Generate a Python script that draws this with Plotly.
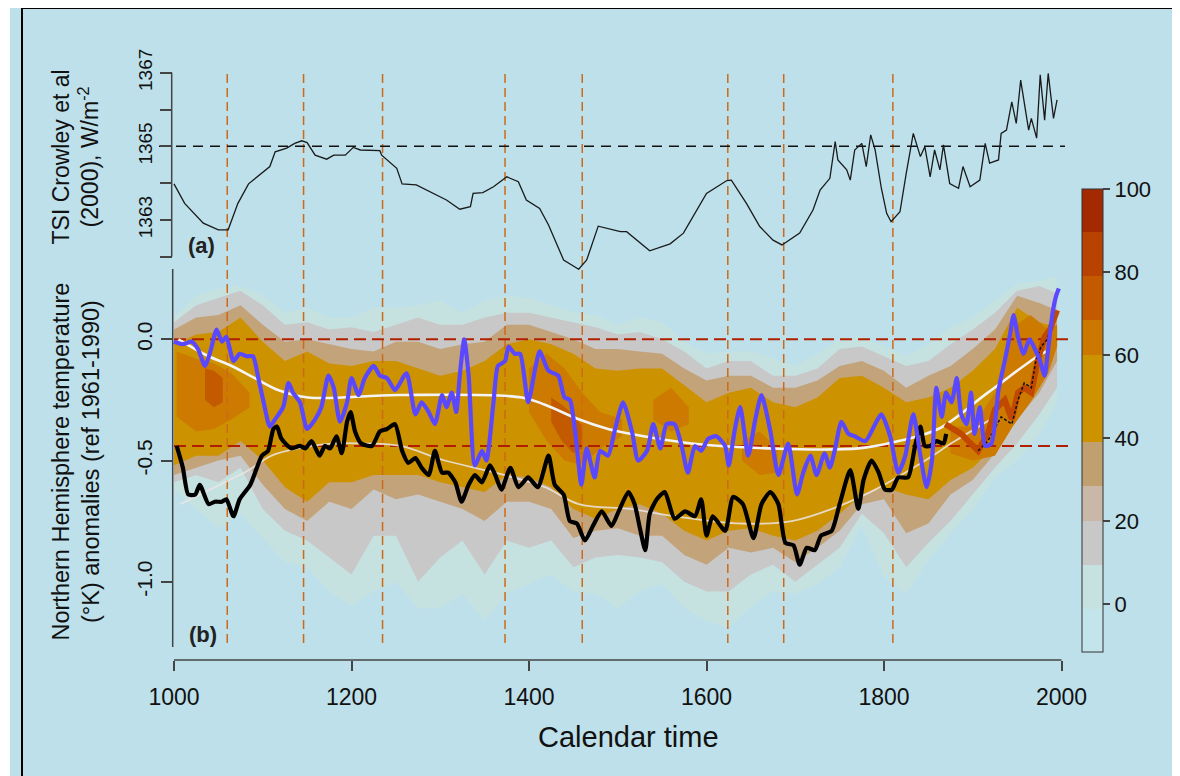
import plotly.graph_objects as go

# ---------------- data ----------------
tsi_year = [1000,1012,1033,1050,1061,1072,1084,1108,1114,1127,1136,1144,1150,1159,1172,1180,1193,1202,1210,1232,
            1234,1251,1257,1273,1307,1322,1334,1337,1348,1360,1375,1388,1397,1412,1422,1439,1456,1465,1478,1503,
            1510,1536,1559,1574,1600,1623,1628,1645,1660,1675,1685,1705,1720,1728,1739,1745,1748,1758,1762,1767,
            1775,1780,1785,1790,1797,1803,1808,1818,1825,1833,1841,1846,1852,1857,1863,1867,1874,1884,1889,1897,
            1908,1914,1919,1929,1932,1938,1944,1949,1954,1959,1963,1966,1972,1976,1981,1985,1991,1995]
tsi_val = [1363.98,1363.45,1362.91,1362.73,1362.73,1363.45,1363.98,1364.45,1364.85,1364.95,1365.08,1365.15,1365.10,1364.76,1364.65,1364.76,1364.76,1364.97,1364.90,1364.88,
           1364.76,1364.40,1363.98,1363.95,1363.54,1363.29,1363.36,1363.72,1363.74,1363.90,1364.17,1364.04,1363.54,1363.31,1362.86,1361.91,1361.66,1361.91,1362.83,1362.68,
           1362.68,1362.16,1362.35,1362.64,1363.72,1364.07,1364.08,1363.45,1362.82,1362.45,1362.32,1362.64,1363.27,1363.81,1364.13,1365.13,1364.63,1364.36,1364.08,1364.90,
           1365.08,1364.45,1365.31,1364.90,1363.86,1363.18,1362.95,1363.22,1364.26,1365.35,1364.72,1364.99,1364.17,1364.90,1364.36,1365.04,1363.99,1363.86,1364.45,1363.90,
           1364.08,1365.08,1364.54,1364.63,1365.35,1365.44,1366.21,1365.62,1366.80,1365.99,1365.44,1365.76,1365.22,1366.94,1365.71,1366.98,1365.76,1366.26]
tsi_ref = 1365.0

blue_year = [1000,1010,1020,1027,1035,1041,1048,1054,1059,1067,1074,1082,1089,1095,1101,1108,1114,1123,1129,1134,
             1142,1150,1159,1166,1174,1180,1187,1195,1200,1208,1215,1225,1232,1240,1249,1262,1272,1279,1287,1294,
             1302,1307,1313,1318,1322,1327,1332,1339,1347,1352,1360,1365,1373,1377,1384,1390,1399,1407,1412,1422,
             1433,1440,1446,1452,1459,1465,1474,1480,1489,1497,1506,1516,1523,1533,1540,1548,1555,1564,1572,1579,
             1587,1594,1602,1611,1621,1625,1632,1638,1647,1655,1662,1672,1681,1692,1702,1709,1717,1724,1733,1739,
             1745,1752,1760,1767,1779,1790,1797,1807,1816,1824,1833,1841,1848,1854,1859,1865,1870,1876,1882,1887,
             1893,1898,1902,1908,1914,1921,1929,1936,1942,1946,1951,1957,1964,1970,1976,1981,1985,1990,1994,1997]
blue_val = [-0.01,-0.02,-0.01,-0.04,-0.11,-0.05,0.04,-0.01,0.01,-0.09,-0.06,-0.07,-0.07,-0.16,-0.26,-0.36,-0.33,-0.28,-0.18,-0.22,
            -0.26,-0.37,-0.33,-0.28,-0.15,-0.20,-0.34,-0.26,-0.16,-0.23,-0.16,-0.11,-0.15,-0.16,-0.21,-0.14,-0.31,-0.26,-0.30,-0.35,
            -0.23,-0.28,-0.22,-0.30,-0.15,0.00,-0.15,-0.52,-0.46,-0.50,-0.26,-0.11,-0.09,-0.03,-0.06,-0.06,-0.26,-0.12,-0.05,-0.13,
            -0.15,-0.24,-0.25,-0.38,-0.60,-0.45,-0.57,-0.46,-0.48,-0.37,-0.26,-0.38,-0.50,-0.46,-0.35,-0.45,-0.35,-0.35,-0.44,-0.55,
            -0.44,-0.46,-0.41,-0.40,-0.44,-0.52,-0.37,-0.28,-0.48,-0.33,-0.23,-0.38,-0.56,-0.43,-0.64,-0.55,-0.48,-0.56,-0.47,-0.53,
            -0.45,-0.34,-0.39,-0.40,-0.42,-0.35,-0.31,-0.40,-0.55,-0.48,-0.31,-0.48,-0.61,-0.50,-0.20,-0.32,-0.22,-0.26,-0.16,-0.31,
            -0.35,-0.22,-0.39,-0.28,-0.44,-0.43,-0.21,-0.09,0.02,0.10,0.01,-0.06,0.00,-0.04,-0.09,-0.15,-0.04,0.11,0.18,0.21]

black_year = [1003,1010,1016,1024,1029,1039,1046,1054,1059,1067,1074,1086,1099,1106,1112,1116,1121,1132,1142,1148,
              1155,1164,1170,1176,1183,1189,1195,1199,1204,1211,1223,1232,1240,1249,1257,1264,1272,1279,1287,1294,
              1302,1309,1317,1324,1332,1339,1347,1356,1362,1369,1379,1388,1399,1410,1422,1429,1439,1446,1454,1463,
              1472,1482,1493,1501,1512,1519,1525,1531,1536,1544,1553,1564,1576,1587,1594,1600,1607,1621,1630,1641,
              1653,1662,1672,1681,1689,1698,1705,1713,1722,1729,1741,1750,1762,1771,1777,1786,1794,1801,1809,1816,
              1827,1835,1841,1846,1852,1859,1867,1870]
black_val = [-0.44,-0.53,-0.64,-0.64,-0.60,-0.68,-0.67,-0.67,-0.66,-0.73,-0.66,-0.60,-0.48,-0.46,-0.37,-0.36,-0.41,-0.45,-0.44,-0.45,
             -0.42,-0.48,-0.44,-0.45,-0.40,-0.47,-0.34,-0.30,-0.38,-0.43,-0.44,-0.38,-0.37,-0.35,-0.46,-0.51,-0.49,-0.53,-0.56,-0.46,
             -0.55,-0.55,-0.59,-0.67,-0.60,-0.56,-0.59,-0.52,-0.56,-0.62,-0.53,-0.61,-0.57,-0.61,-0.48,-0.60,-0.64,-0.75,-0.76,-0.83,
             -0.77,-0.71,-0.77,-0.71,-0.63,-0.68,-0.78,-0.87,-0.72,-0.66,-0.63,-0.74,-0.71,-0.73,-0.66,-0.81,-0.73,-0.79,-0.65,-0.68,
             -0.82,-0.68,-0.63,-0.68,-0.84,-0.85,-0.93,-0.86,-0.87,-0.81,-0.79,-0.68,-0.54,-0.70,-0.58,-0.50,-0.55,-0.62,-0.62,-0.57,
             -0.57,-0.44,-0.36,-0.44,-0.44,-0.42,-0.43,-0.39]

inst_year = [1869,1887,1906,1917,1925,1936,1944,1951,1958,1966,1973,1981,1987,1995]
inst_val = [-0.35,-0.39,-0.46,-0.39,-0.29,-0.25,-0.33,-0.22,-0.20,-0.22,-0.09,0.01,0.04,0.12]

thin_year = [1906,1917,1932,1944,1951,1958,1966,1971,1977,1984,1991]
thin_val = [-0.46,-0.42,-0.32,-0.35,-0.25,-0.18,-0.20,-0.09,-0.03,0.00,0.09]

white_up_year = [1005,1039,1065,1091,1118,1151,1253,1392,1418,1456,1489,1514,1583,1670,1771,1816,1861,1917,1973,1983]
white_up_val = [0.00,-0.07,-0.11,-0.16,-0.21,-0.24,-0.23,-0.24,-0.27,-0.33,-0.37,-0.39,-0.43,-0.45,-0.45,-0.42,-0.37,-0.22,-0.07,-0.05]
white_lo_year = [1007,1057,1084,1110,1140,1177,1215,1255,1305,1362,1418,1456,1514,1564,1639,1696,1741,1790,1842,1880,1925]
white_lo_val = [-0.68,-0.59,-0.54,-0.48,-0.45,-0.43,-0.43,-0.44,-0.50,-0.55,-0.61,-0.68,-0.70,-0.73,-0.76,-0.75,-0.70,-0.62,-0.51,-0.42,-0.32]

# probability-density envelopes (upper / lower bounds of each shaded level)
band_year = [1000,1025,1050,1075,1100,1125,1150,1175,1200,1225,1250,1275,1300,1325,1350,1375,1400,1425,1450,1475,
             1500,1525,1550,1575,1600,1625,1650,1675,1700,1725,1750,1775,1800,1825,1850,1875,1900,1925,1950,1975,1995]
pale_top = [0.09,0.18,0.21,0.22,0.18,0.11,0.13,0.09,0.09,0.13,0.13,0.14,0.16,0.11,0.16,0.18,0.17,0.14,0.11,0.10,
            0.06,0.09,0.07,-0.01,-0.06,-0.05,-0.05,-0.08,-0.11,-0.06,0.00,0.01,-0.03,-0.07,-0.02,0.05,0.09,0.16,0.23,0.24,0.26]
pale_bot = [-0.62,-0.70,-0.78,-0.72,-0.82,-0.92,-0.94,-1.04,-1.10,-1.04,-1.00,-1.11,-1.11,-1.05,-1.16,-1.05,-1.01,-0.97,-1.04,-1.05,
            -1.11,-1.04,-1.01,-1.11,-1.16,-1.19,-1.10,-1.04,-1.05,-1.01,-0.94,-0.77,-0.98,-1.05,-0.91,-0.80,-0.70,-0.57,-0.50,-0.39,-0.26]
grey_top = [0.07,0.14,0.17,0.20,0.14,0.06,0.07,0.04,0.05,0.03,0.06,0.09,0.06,0.06,0.09,0.11,0.11,0.09,0.07,0.05,
            0.02,0.03,0.00,-0.05,-0.12,-0.09,-0.09,-0.15,-0.15,-0.12,-0.04,-0.03,-0.07,-0.11,-0.09,-0.02,0.04,0.11,0.20,0.22,0.19]
grey_bot = [-0.59,-0.56,-0.59,-0.53,-0.70,-0.79,-0.83,-0.90,-0.97,-0.81,-0.81,-1.00,-0.90,-0.83,-0.97,-0.83,-0.86,-0.83,-0.94,-0.90,
            -0.89,-0.90,-0.92,-1.00,-1.04,-1.04,-0.97,-0.93,-1.00,-0.93,-0.86,-0.72,-0.80,-0.94,-0.84,-0.75,-0.64,-0.53,-0.43,-0.31,-0.20]
tan_top = [0.04,0.09,0.10,0.14,0.06,-0.01,0.00,-0.02,-0.04,-0.05,-0.01,-0.01,-0.04,-0.02,-0.01,0.06,0.06,0.03,0.00,-0.04,
           -0.04,-0.05,-0.06,-0.12,-0.17,-0.15,-0.15,-0.20,-0.20,-0.17,-0.11,-0.09,-0.13,-0.20,-0.15,-0.11,-0.04,0.04,0.18,0.15,0.12]
tan_bot = [-0.56,-0.53,-0.50,-0.48,-0.60,-0.70,-0.75,-0.67,-0.70,-0.62,-0.66,-0.64,-0.67,-0.70,-0.75,-0.67,-0.67,-0.70,-0.82,-0.79,
           -0.78,-0.81,-0.81,-0.89,-0.93,-0.86,-0.88,-0.86,-0.92,-0.86,-0.79,-0.68,-0.66,-0.80,-0.76,-0.64,-0.58,-0.47,-0.33,-0.22,-0.09]
gold_top = [-0.02,0.02,0.03,0.09,-0.01,-0.09,-0.05,-0.10,-0.11,-0.09,-0.09,-0.12,-0.15,-0.13,-0.09,-0.02,0.00,-0.02,-0.06,-0.12,
            -0.13,-0.12,-0.12,-0.19,-0.26,-0.22,-0.20,-0.26,-0.28,-0.24,-0.16,-0.15,-0.20,-0.26,-0.24,-0.20,-0.13,-0.04,0.13,0.07,0.05]
gold_bot = [-0.52,-0.48,-0.48,-0.42,-0.50,-0.61,-0.67,-0.59,-0.59,-0.56,-0.56,-0.56,-0.59,-0.61,-0.63,-0.56,-0.57,-0.61,-0.70,-0.74,
            -0.70,-0.68,-0.72,-0.79,-0.83,-0.79,-0.78,-0.81,-0.83,-0.79,-0.72,-0.64,-0.61,-0.64,-0.66,-0.58,-0.53,-0.44,-0.26,-0.15,-0.03]

# higher-density patches (60-80 %)
orange1_year = [1003,1025,1045,1065,1085]
orange1_top = [-0.05,-0.08,-0.10,-0.14,-0.22]
orange1_bot = [-0.32,-0.38,-0.37,-0.33,-0.28]
orange2_year = [1400,1420,1440,1460,1480,1505]
orange2_top = [-0.12,-0.06,-0.12,-0.22,-0.30,-0.33]
orange2_bot = [-0.30,-0.42,-0.50,-0.52,-0.45,-0.40]
orange3_year = [1540,1560,1580]
orange3_top = [-0.25,-0.20,-0.28]
orange3_bot = [-0.33,-0.38,-0.35]
orange4_year = [1640,1660,1680]
orange4_top = [-0.42,-0.38,-0.45]
orange4_bot = [-0.50,-0.56,-0.55]
orange5_year = [1875,1900,1925,1945,1965,1985,1995]
orange5_top = [-0.36,-0.36,-0.22,0.05,0.10,0.04,0.06]
orange5_bot = [-0.47,-0.50,-0.48,-0.36,-0.26,-0.14,-0.03]
dark1_year = [1425,1437,1450,1460]
dark1_top = [-0.24,-0.27,-0.31,-0.36]
dark1_bot = [-0.34,-0.42,-0.47,-0.45]
dark2_year = [1035,1045,1055]
dark2_top = [-0.12,-0.13,-0.16]
dark2_bot = [-0.25,-0.28,-0.26]

solar_minima = [1060, 1146, 1235, 1373, 1460, 1624, 1687, 1810]
ref_levels = [0.0, -0.44]

x_ticks = [1000, 1200, 1400, 1600, 1800, 2000]
t_ticks = [-1.0, -0.5, 0.0]
t_tick_text = ["-1.0", "-0.5", "0.0"]
s_ticks = [1363, 1365, 1367]
s_tick_text = ["1363", "1365", "1367"]

cb_edges = [-11.4, -1.0, 9.5, 20.0, 28.6, 39.2, 60.0, 68.5, 79.0, 89.6, 100.0]
cb_colors = ["#C4E4EC", "#C6E2E0", "#C8C8C8", "#C9B8A8", "#C1A070", "#CC9200", "#CC7800", "#C45A00", "#B84200", "#A32A00"]
cb_ticks = [0, 20, 40, 60, 80, 100]

# ---------------- geometry ----------------
# the page places the figure 8 px in from the window's top-left corner,
# so the figure is sized to end exactly at the window edge
PAGE_OFF = 8
W, H = 1180 - PAGE_OFF, 776 - PAGE_OFF
FONT = "Liberation Sans, Arial, sans-serif"
BG = "#BDE0EA"


def fx(px):
    return (px - PAGE_OFF) / W


def fy(py):
    return 1 - (py - PAGE_OFF) / H


def yr_at(px):
    return 1000 + (px - 174.0) / 0.8875


def t_at(py):
    return (339.3 - py) / 242.4


def s_at(py):
    return 1367 - (py - 72.7) / 36.8


X_RANGE = [yr_at(156), yr_at(1075)]
X_DOM = [fx(156), fx(1075)]

fig = go.Figure()

# colour bar (discrete)
cmin, cmax = cb_edges[0], cb_edges[-1]
cscale = []
for i, c in enumerate(cb_colors):
    cscale.append([(cb_edges[i] - cmin) / (cmax - cmin), c])
    cscale.append([(cb_edges[i + 1] - cmin) / (cmax - cmin), c])
fig.add_trace(go.Scatter(
    x=[1500], y=[-0.6], mode="markers", hoverinfo="skip", showlegend=False,
    marker=dict(size=1, color=[50], cmin=cmin, cmax=cmax, colorscale=cscale, showscale=True,
                colorbar=dict(x=fx(1082), xanchor="left", thickness=21, thicknessmode="pixels",
                              len=(651.7 - 189) / H, lenmode="fraction", y=fy((651.7 + 189) / 2),
                              yanchor="middle", xpad=0, ypad=0, outlinewidth=1, outlinecolor="#333",
                              ticks="outside", ticklen=7, tickwidth=1.5, tickcolor="#444",
                              tickvals=cb_ticks, tickfont=dict(family=FONT, size=22, color="#111"))),
    xaxis="x", yaxis="y"))


def band(years, top, bot, color):
    fig.add_trace(go.Scatter(
        x=list(years) + list(years)[::-1], y=list(top) + list(bot)[::-1],
        fill="toself", fillcolor=color, mode="lines", line=dict(width=0, color=color),
        hoverinfo="skip", showlegend=False, xaxis="x", yaxis="y"))


band(band_year, pale_top, pale_bot, "#C6E2E0")
band(band_year, grey_top, grey_bot, "#C8C8C8")
band(band_year, tan_top, tan_bot, "#C3A47A")
band(band_year, gold_top, gold_bot, "#CC9200")
for yy, tt, bb in [(orange1_year, orange1_top, orange1_bot), (orange2_year, orange2_top, orange2_bot),
                   (orange3_year, orange3_top, orange3_bot), (orange4_year, orange4_top, orange4_bot),
                   (orange5_year, orange5_top, orange5_bot)]:
    band(yy, tt, bb, "#CC7A00")
for yy, tt, bb in [(dark1_year, dark1_top, dark1_bot), (dark2_year, dark2_top, dark2_bot)]:
    band(yy, tt, bb, "#C45A00")

# vertical dashed lines (solar minima), both panels
vx, vy_top, vy_low = [], [], []
for m in solar_minima:
    vx += [m, m, None]
    vy_top += [s_at(74), s_at(270), None]
    vy_low += [t_at(270), t_at(648), None]
fig.add_trace(go.Scatter(x=vx, y=vy_top, mode="lines", line=dict(color="#CC6A1A", width=1.5, dash="9px,5px"),
                         hoverinfo="skip", showlegend=False, xaxis="x2", yaxis="y2"))
fig.add_trace(go.Scatter(x=vx, y=vy_low, mode="lines", line=dict(color="#CC6A1A", width=1.5, dash="9px,5px"),
                         hoverinfo="skip", showlegend=False, xaxis="x", yaxis="y"))

# red reference lines
rx, ry = [], []
for lv in ref_levels:
    rx += [1000, yr_at(1072), None]
    ry += [lv, lv, None]
fig.add_trace(go.Scatter(x=rx, y=ry, mode="lines", line=dict(color="#B02000", width=2, dash="12px,6px"),
                         hoverinfo="skip", showlegend=False, xaxis="x", yaxis="y"))

# smooth white curves
fig.add_trace(go.Scatter(x=white_lo_year, y=white_lo_val, mode="lines", line=dict(color="#ECE6E6", width=1.8, shape="spline"),
                         opacity=0.85, hoverinfo="skip", showlegend=False, xaxis="x", yaxis="y"))
fig.add_trace(go.Scatter(x=white_up_year, y=white_up_val, mode="lines", line=dict(color="#F4F4F4", width=2.6, shape="spline"),
                         hoverinfo="skip", showlegend=False, xaxis="x", yaxis="y"))

# instrumental
fig.add_trace(go.Scatter(x=inst_year, y=inst_val, mode="lines", line=dict(color="#C04800", width=6),
                         hoverinfo="skip", showlegend=False, xaxis="x", yaxis="y"))
fig.add_trace(go.Scatter(x=thin_year, y=thin_val, mode="lines", line=dict(color="#111", width=1.5, dash="3px,2px"),
                         hoverinfo="skip", showlegend=False, xaxis="x", yaxis="y"))

# black and blue reconstructions
fig.add_trace(go.Scatter(x=black_year, y=black_val, mode="lines",
                         line=dict(color="#000000", width=4.2, shape="spline", smoothing=0.6),
                         hoverinfo="skip", showlegend=False, xaxis="x", yaxis="y"))
fig.add_trace(go.Scatter(x=blue_year, y=blue_val, mode="lines",
                         line=dict(color="#5A48FF", width=4.2, shape="spline", smoothing=0.6),
                         hoverinfo="skip", showlegend=False, xaxis="x", yaxis="y"))

# top panel: TSI
fig.add_trace(go.Scatter(x=[yr_at(159), yr_at(1065)], y=[tsi_ref, tsi_ref], mode="lines",
                         line=dict(color="#111", width=1.5, dash="10px,7px"),
                         hoverinfo="skip", showlegend=False, xaxis="x2", yaxis="y2"))
fig.add_trace(go.Scatter(x=tsi_year, y=tsi_val, mode="lines", line=dict(color="#1A1A1A", width=1.3),
                         hoverinfo="skip", showlegend=False, xaxis="x2", yaxis="y2"))

fig.update_layout(
    width=W, height=H, margin=dict(l=0, r=0, t=0, b=0, pad=0, autoexpand=False),
    paper_bgcolor=BG, plot_bgcolor="rgba(0,0,0,0)", showlegend=False,
    xaxis=dict(domain=X_DOM, range=X_RANGE, anchor="free", position=fy(660), showgrid=False, zeroline=False,
               showline=False, automargin=False, tickmode="array", tickvals=x_ticks, ticks="outside",
               ticklen=10, tickwidth=1.5, tickcolor="#444",
               tickfont=dict(family=FONT, size=23, color="#111"), ticklabelstandoff=6),
    xaxis2=dict(domain=X_DOM, range=X_RANGE, matches="x", anchor="y2", visible=False, automargin=False),
    yaxis=dict(domain=[fy(647), fy(270)], range=[t_at(647), t_at(270)], anchor="free", position=fx(172.7),
               showgrid=False, zeroline=False, showline=False, automargin=False, tickmode="array",
               tickvals=t_ticks, ticktext=t_tick_text, ticks="outside", ticklen=12, tickwidth=1.5,
               tickcolor="#444", tickangle=-90, tickfont=dict(family=FONT, size=21, color="#111")),
    yaxis2=dict(domain=[fy(270), fy(60)], range=[s_at(270), s_at(60)], anchor="free", position=fx(171.7),
                showgrid=False, zeroline=False, showline=False, automargin=False, tickmode="array",
                tickvals=s_ticks, ticktext=s_tick_text, ticks="outside", ticklen=12, tickwidth=1.5,
                tickcolor="#444", tickangle=-90, tickfont=dict(family=FONT, size=19, color="#111"),
                minor=dict(ticks="outside", ticklen=12, tickwidth=1.5, tickcolor="#444",
                           tick0=1362, dtick=1, showgrid=False)),
)

shapes = [
    dict(type="rect", xref="paper", yref="paper", x0=fx(8), x1=fx(10), y0=0, y1=1, fillcolor="white",
         line=dict(width=0), layer="below"),
    dict(type="line", xref="paper", yref="paper", x0=fx(22), x1=fx(22), y0=0, y1=fy(8),
         line=dict(color="#000", width=2)),
    dict(type="line", xref="paper", yref="paper", x0=fx(22), x1=1, y0=fy(8), y1=fy(8),
         line=dict(color="#000", width=2)),
    # axis lines
    dict(type="line", xref="x", yref="paper", x0=1000, x1=2000, y0=fy(660), y1=fy(660),
         line=dict(color="#444", width=1.5)),
    dict(type="line", xref="paper", yref="paper", x0=fx(172.7), x1=fx(172.7), y0=fy(647), y1=fy(269),
         line=dict(color="#444", width=1.5)),
    dict(type="line", xref="paper", yref="y2", x0=fx(171.7), x1=fx(171.7), y0=1362, y1=1367,
         line=dict(color="#444", width=1.5)),
]
fig.update_layout(shapes=shapes)

ann = [
    dict(text="Northern Hemisphere temperature<br>(°K) anomalies (ref 1961-1990)", x=fx(75.5), y=fy(462),
         textangle=-90, font=dict(family=FONT, size=23.5, color="#111")),
    dict(text="TSI Crowley et al<br>(2000), W/m<sup>-2</sup>", x=fx(75.5), y=fy(157),
         textangle=-90, font=dict(family=FONT, size=23, color="#111")),
    dict(text="Calendar time", x=fx(629), y=fy(737), font=dict(family=FONT, size=29, color="#111")),
    dict(text="<b>(a)</b>", x=fx(201.7), y=fy(245), font=dict(family=FONT, size=22, color="#222")),
    dict(text="<b>(b)</b>", x=fx(203), y=fy(634), font=dict(family=FONT, size=22, color="#222")),
]
for a in ann:
    a.update(xref="paper", yref="paper", showarrow=False, xanchor="center", yanchor="middle")
fig.update_layout(annotations=ann)

fig.write_html("out.html")
